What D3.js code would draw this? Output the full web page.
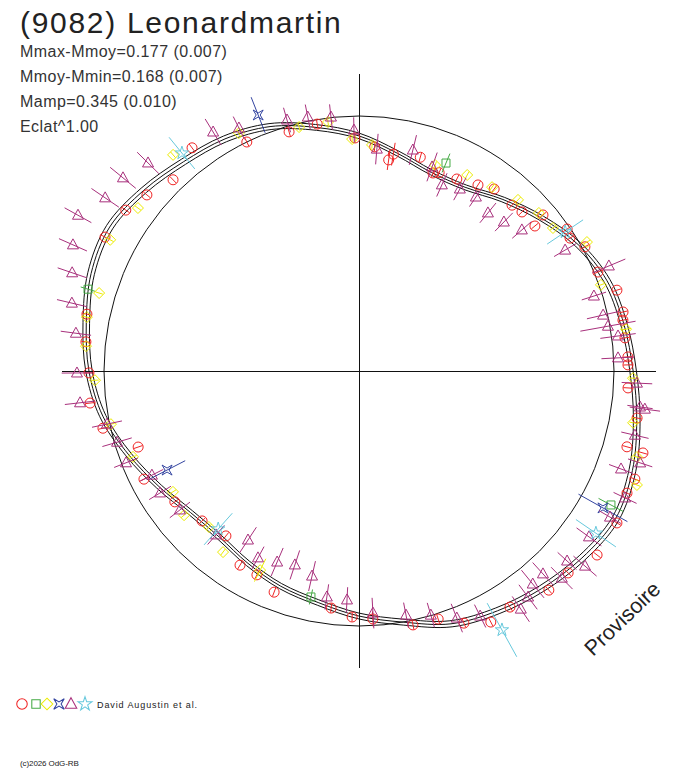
<!DOCTYPE html>
<html><head><meta charset="utf-8">
<script src="https://cdn.jsdelivr.net/npm/d3@7"></script>
<style>
body{margin:0;background:#fff}
svg{display:block}
text{font-family:"Liberation Sans",Arial,sans-serif;fill:#222}
</style>
</head><body>
<svg id="c" width="688" height="768"></svg>
<script>
// ---------- DATA ----------
const title = "(9082) Leonardmartin";
const statLines = ["Mmax-Mmoy=0.177 (0.007)", "Mmoy-Mmin=0.168 (0.007)", "Mamp=0.345 (0.010)", "Eclat^1.00"];
const observer = "David Augustin et al.";
const copyright = "(c)2026 OdG-RB";
const stamp = "Provisoire";

// fitted curve: rotation phase (deg) and relative flux
const curvePhase = [0,10,20,30,40,50,60,70,80,90,100,110,120,130,140,150,160,170,180,190,200,210,220,230,240,250,260,270,280,290,300,310,320,330,340,350];
const curveFlux  = [0.922,0.867,0.829,0.832,0.878,0.933,0.992,1.035,1.055,1.075,1.106,1.141,1.161,1.141,1.114,1.086,1.055,1.000,0.961,0.922,0.898,0.871,0.851,0.863,0.906,0.961,1.020,1.059,1.086,1.118,1.129,1.102,1.071,1.051,1.020,0.970];
const curveBand = 0.012; // fit uncertainty band

// observations: [phase deg, relative flux, error]
const sessionCircle = [[359,0.914,0.018],[4,0.881,0.018],[8,0.836,0.04],[9,0.861,0.045],[16,0.872,0.018],[20.5,0.829,0.018],[22,0.839,0.018],[27,0.845,0.018],[32.6,0.866,0.018],[36.6,0.889,0.018],[42.7,0.885,0.018],[45.7,0.893,0.018],[50.5,0.894,0.018],[49.7,0.946,0.018],[55.7,0.988,0.018],[57.8,0.978,0.018],[61.2,1.011,0.018],[67.5,1.014,0.018],[72.6,1.060,0.018],[77.4,1.061,0.018],[79.1,1.054,0.018],[82.9,1.051,0.018],[87,1.056,0.018],[88.7,1.055,0.018],[93.6,1.057,0.018],[99.6,1.106,0.018],[105.8,1.092,0.018],[106.1,1.159,0.018],[111.4,1.162,0.018],[114.5,1.155,0.018],[120.5,1.174,0.018],[127.7,1.180,0.018],[134,1.140,0.018],[139.1,1.137,0.018],[147.4,1.099,0.018],[152.3,1.112,0.018],[157.4,1.071,0.018],[162.3,1.021,0.018],[168,1.018,0.018],[176.8,0.974,0.03],[181.6,0.965,0.018],[186.7,0.936,0.018],[201,0.929,0.018],[206.6,0.894,0.018],[211.5,0.893,0.018],[218.9,0.831,0.018],[226.3,0.851,0.018],[234.6,0.886,0.018],[243.3,0.944,0.018],[251,0.916,0.018],[257.4,1.029,0.018],[263.2,1.062,0.018],[269.6,1.059,0.018],[276.1,1.077,0.018],[281.8,1.090,0.018],[297.8,1.126,0.018],[304.6,1.111,0.018],[309.7,1.081,0.018],[315.8,1.046,0.018],[323.2,1.093,0.018],[333.9,1.000,0.018],[343.7,0.977,0.018],[350.4,0.982,0.018]];
const sessionSquare = [[22.7,0.884,0.04],[118,1.119,0.055],[192,0.906,0.03],[286.8,1.110,0.03]];
const sessionDiamond = [[358.3,0.910,0.015],[3.3,0.888,0.015],[20.3,0.861,0.015],[28.9,0.878,0.015],[35.9,0.890,0.015],[42.9,0.916,0.015],[48.7,0.939,0.015],[53.6,0.945,0.015],[60.5,1.027,0.015],[70.4,1.007,0.015],[81.1,1.060,0.02],[91.5,1.075,0.015],[100.7,1.094,0.015],[107.2,1.141,0.015],[112.3,1.178,0.015],[206.4,0.872,0.05],[216.9,0.888,0.015],[223.9,0.849,0.015],[230.5,0.889,0.015],[237,0.870,0.015],[249.2,0.948,0.015],[257.9,0.995,0.015],[268,1.036,0.015],[275.2,1.075,0.015],[281.2,1.088,0.015],[286.7,1.064,0.015],[297.8,1.103,0.015],[306.4,1.077,0.015],[319.3,1.118,0.015],[333.2,1.045,0.015],[346.2,0.985,0.015],[352.9,0.984,0.015]];
const sessionCross = [[338.5,1.079,0.075],[119.3,1.097,0.11],[242.7,0.847,0.08]];
const sessionTriangle = [[358.8,0.945,0.05],[4.6,0.873,0.06],[13.7,0.892,0.06],[19.7,0.850,0.06],[24,0.799,0.05],[29,0.816,0.05],[33.9,0.822,0.045],[39.2,0.800,0.05],[44.2,0.815,0.05],[49.1,0.845,0.05],[59.6,0.937,0.05],[67.2,1.063,0.07],[72.3,0.967,0.05],[77.1,0.982,0.065],[79.8,0.992,0.11],[82.3,1.025,0.07],[87.1,1.017,0.065],[92.5,1.091,0.06],[97.3,1.111,0.05],[97.6,1.131,0.06],[103.1,1.111,0.055],[108.1,1.160,0.05],[110.5,1.097,0.05],[115.5,1.156,0.05],[120.2,1.139,0.05],[125.8,1.112,0.06],[130.8,1.171,0.06],[132.4,1.105,0.05],[135.6,1.137,0.06],[137.8,1.074,0.06],[140.8,1.078,0.07],[143.2,1.107,0.06],[145.8,1.129,0.06],[153.7,1.072,0.05],[158.4,1.042,0.06],[163.6,0.998,0.05],[169.1,0.975,0.05],[176.7,0.951,0.06],[183,0.899,0.05],[188.1,0.895,0.05],[192.9,0.825,0.06],[198.3,0.801,0.06],[203.2,0.815,0.06],[208.4,0.833,0.05],[213.3,0.793,0.06],[221.1,0.853,0.05],[232.2,0.889,0.05],[238.5,0.915,0.05],[243.3,0.909,0.05],[248.5,0.982,0.05],[253.6,0.989,0.06],[258.1,1.010,0.06],[263.5,1.101,0.06],[269.6,1.106,0.06],[277.6,1.120,0.06],[283.3,1.157,0.06],[288.9,1.189,0.06],[293.8,1.226,0.06],[299,1.260,0.06],[304.3,1.205,0.065],[309.3,1.196,0.065],[314.6,1.162,0.06],[328.6,1.098,0.06],[333.7,1.063,0.05],[344,1.024,0.05],[348.6,1.016,0.05],[353.7,1.002,0.05]];
const sessionStar = [[56,0.975,0.085],[124.4,1.126,0.095],[151.1,1.160,0.12],[221.7,0.830,0.083],[320.9,1.101,0.08]];

// ---------- DRAW ----------
const W = 688, H = 768, cx = 359, cy = 371;
const svg = d3.select("#c");
const rScale = d3.scaleLinear().domain([0, 1]).range([0, 255]);
const aScale = d3.scaleLinear().domain([0, 360]).range([0, 2 * Math.PI]);
const axisMax = 1.165;

const shapes = {
  circle: "M5,0A5,5 0 1,1 -5,0A5,5 0 1,1 5,0Z",
  square: "M-4,-4H4V4H-4Z",
  diamond: "M0,-5.5L5.5,0L0,5.5L-5.5,0Z",
  cross: "M-5,-5L0,-2L5,-5L2,0L5,5L0,2L-5,5L-2,0Z",
  triangle: "M0,-6L5.5,4H-5.5Z",
  star: d3.symbol(d3.symbolStar, 55)()
};
const series = [
  {data: sessionCircle, shape: "circle", color: "#f02424"},
  {data: sessionSquare, shape: "square", color: "#44aa44"},
  {data: sessionDiamond, shape: "diamond", color: "#ecec00"},
  {data: sessionCross, shape: "cross", color: "#3344a0"},
  {data: sessionTriangle, shape: "triangle", color: "#a8307c"},
  {data: sessionStar, shape: "star", color: "#66c8dc"}
];

const g = svg.append("g").attr("transform", `translate(${cx},${cy})`);

// axes
g.append("line").attr("x1", -rScale(axisMax)).attr("x2", rScale(axisMax)).attr("y1", 0).attr("y2", 0)
  .attr("stroke", "#111").attr("stroke-width", 1).attr("shape-rendering", "crispEdges");
g.append("line").attr("y1", -rScale(axisMax)).attr("y2", rScale(axisMax)).attr("x1", 0).attr("x2", 0)
  .attr("stroke", "#111").attr("stroke-width", 1).attr("shape-rendering", "crispEdges");

// reference circle (mean flux)
g.append("circle").attr("r", rScale(1)).attr("fill", "none").attr("stroke", "#111").attr("stroke-width", 1);

// fitted curve with band
const curvePts = curvePhase.map((p, i) => [p, curveFlux[i]]);
[1 - curveBand, 1, 1 + curveBand].forEach(k => {
  const line = d3.lineRadial()
    .angle(d => aScale(d[0]))
    .radius(d => rScale(d[1] * k))
    .curve(d3.curveCatmullRomClosed.alpha(0.5));
  g.append("path").attr("d", line(curvePts)).attr("fill", "none")
    .attr("stroke", "#111").attr("stroke-width", 1);
});

// observations
const pt = (a, f) => d3.pointRadial(aScale(a), rScale(f));
series.forEach(s => {
  const gg = g.append("g");
  s.data.forEach(d => {
    const p0 = pt(d[0], d[1] - d[2]), p1 = pt(d[0], d[1] + d[2]), p = pt(d[0], d[1]);
    gg.append("line").attr("x1", p0[0]).attr("y1", p0[1]).attr("x2", p1[0]).attr("y2", p1[1])
      .attr("stroke", s.color).attr("stroke-width", 1);
    gg.append("path").attr("d", shapes[s.shape]).attr("transform", `translate(${p[0]},${p[1]})`)
      .attr("fill", "none").attr("stroke", s.color).attr("stroke-width", 1);
  });
});

// title and stats
svg.append("text").attr("x", 20).attr("y", 33).attr("font-size", 30).attr("letter-spacing", 1.7)
  .style("fill", "#222").text(title);
statLines.forEach((t, i) => {
  svg.append("text").attr("x", 20).attr("y", 57 + i * 25).attr("font-size", 16).attr("letter-spacing", 0.45)
    .style("fill", "#333").text(t);
});

// legend
const legX = [22, 36, 47, 59, 71, 85];
series.forEach((s, i) => {
  svg.append("path").attr("d", shapes[s.shape]).attr("transform", `translate(${legX[i]},704) scale(1.05)`)
    .attr("fill", "none").attr("stroke", s.color).attr("stroke-width", 1);
});
svg.append("text").attr("x", 97).attr("y", 708).attr("font-size", 9).attr("letter-spacing", 0.9)
  .style("fill", "#222").text(observer);
svg.append("text").attr("x", 20).attr("y", 766).attr("font-size", 8).attr("letter-spacing", -0.1)
  .style("fill", "#222").text(copyright);

// stamp
svg.append("text").attr("transform", "translate(593,657) rotate(-44)").attr("font-size", 21.5)
  .style("fill", "#222").text(stamp);
</script>
</body></html>
